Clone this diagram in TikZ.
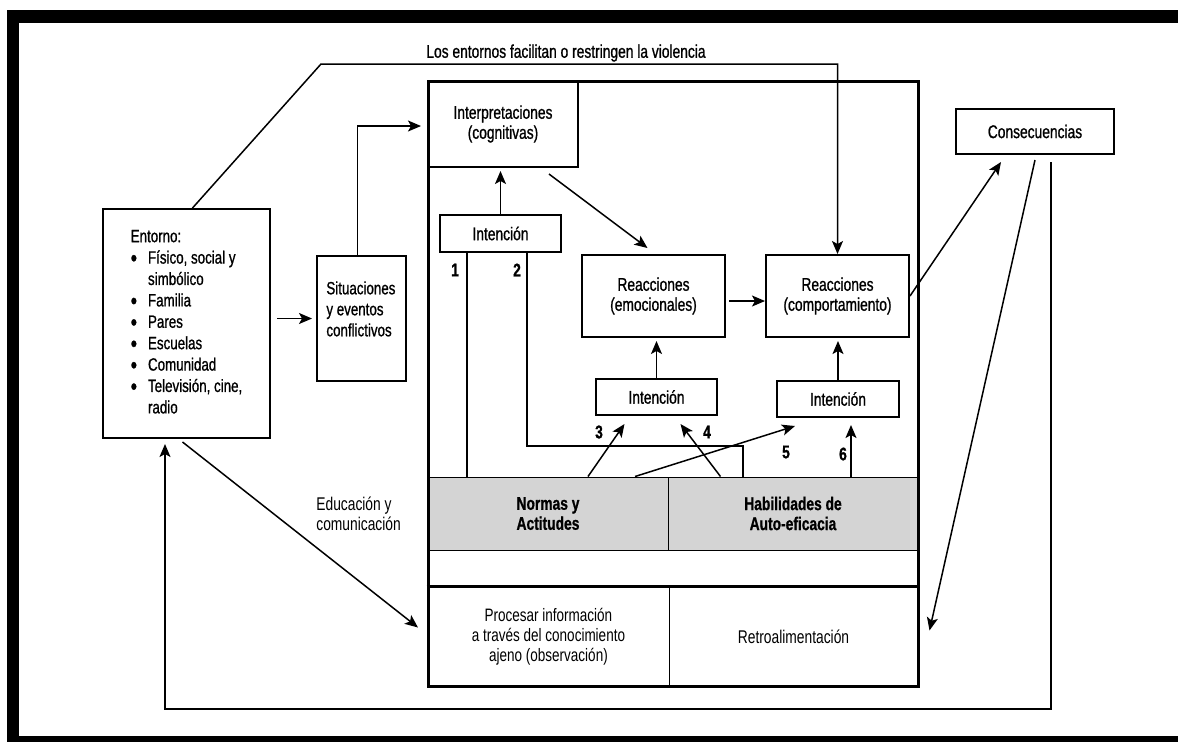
\documentclass[tikz,border=0pt]{standalone}
\usepackage{fontspec}
\setmainfont[FakeStretch=0.75, FakeBold=0.9]{Liberation Sans}
\newfontfamily\ligera[FakeStretch=0.75]{Liberation Sans}
\usetikzlibrary{positioning}
\usetikzlibrary{arrows.meta}
\definecolor{gris}{RGB}{212,212,212}
\newcommand{\vineta}{\smash{\raisebox{-1.3pt}{\fontsize{12}{10}\selectfont\textbullet}}}
\tikzset{every node/.style={font=\fontsize{9.2}{10}\selectfont},
         caja/.style={draw, line width=1pt, align=center, inner sep=0pt},
         texto/.style={inner sep=0pt, align=left},
         numero/.style={inner sep=0pt, font=\fontsize{9.2}{10}\selectfont\bfseries},
         marco/.style={draw, line width=6.25pt},
         linea/.style={line width=0.6pt},
         flecha/.style={-{Stealth[length=6.5pt,width=5.5pt,inset=1.5pt]}, line width=0.75pt},
         every edge/.style={draw, flecha} }

\begin{document}
\begin{tikzpicture}[x=0.5pt, y=-0.5pt]
    \useasboundingbox (0,0) rectangle (1178,741);
    \clip (0,0) rectangle (1178,741);
    \draw[marco] (13,16.5) rectangle (1200,742.25);

    \node (titulo) at (566,53) {Los entornos facilitan o restringen la violencia};
    \node[caja, minimum width=83.5pt, minimum height=114.5pt, font=\fontsize{8.9}{10.7}\selectfont] (ent) at (186.5,323.5)
      {\begin{tabular}{@{}l@{\hspace{5.5pt}}l@{}}
        \multicolumn{2}{@{}l@{}}{Entorno:}\\
        \vineta & Físico, social y\\
                & simbólico\\
        \vineta & Familia\\
        \vineta & Pares\\
        \vineta & Escuelas\\
        \vineta & Comunidad\\
        \vineta & Televisión, cine,\\
                & radio
       \end{tabular}};
    \node[caja, minimum width=44.5pt, minimum height=62.5pt] (sit) at (361.5,318.5) {};
    \node[texto, anchor=north west, font=\fontsize{8.9}{10.5}\selectfont] (sittxt) at (326,281) {Situaciones\\y eventos\\conflictivos};
    \node[caja, minimum width=75pt, minimum height=43pt] (int) at (503,124) {Interpretaciones\\(cognitivas)};
    \node[caja, minimum width=60.5pt, minimum height=18.5pt] (int1) at (500.5,233.5) {Intención};
    \node[caja, minimum width=71.5pt, minimum height=41pt] (emo) at (653.5,296) {Reacciones\\(emocionales)};
    \node[caja, minimum width=71.5pt, minimum height=41pt] (comp) at (837.5,296) {Reacciones\\(comportamiento)};
    \node[caja, minimum width=60.5pt, minimum height=18pt] (int2) at (656.5,397) {Intención};
    \node[caja, minimum width=61pt, minimum height=18pt] (int3) at (838,399) {Intención};
    \node[caja, fill=gris, line width=0.5pt, minimum width=120pt, minimum height=36.5pt,
          font=\fontsize{9.2}{10}\selectfont\bfseries] (nor) at (548,513.5) {Normas y\\Actitudes};
    \node[caja, fill=gris, line width=0.5pt, minimum width=125pt, minimum height=36.5pt,
          font=\fontsize{9.2}{10}\selectfont\bfseries] (hab) at (793,513.5) {Habilidades de\\Auto-eficacia};
    \node[caja, line width=0.5pt, minimum width=120.5pt, minimum height=49.5pt,
          font=\fontsize{9}{10}\selectfont\ligera] (pro) at (548.5,636.5)
      {Procesar información\\a través del conocimiento\\ajeno (observación)};
    \node[caja, line width=0.5pt, minimum width=124.5pt, minimum height=49.5pt,
          font=\fontsize{9.2}{10}\selectfont\ligera] (ret) at (793.5,636.5) {Retroalimentación};
    \node[caja, minimum width=79pt, minimum height=22.5pt] (con) at (1035,131.5) {Consecuencias};
    \node[texto, anchor=west, font=\fontsize{9.2}{10}\selectfont\ligera] (edu) at (316,514) {Educación y\\comunicación};

    \node[numero] (n1) at (455,270) {1};
    \node[numero] (n2) at (517,270) {2};
    \node[numero] (n3) at (599,432) {3};
    \node[numero] (n4) at (707,432) {4};
    \node[numero] (n5) at (786,452) {5};
    \node[numero] (n6) at (843,454) {6};

    % entorno y situaciones
    \coordinate (quiebre) at (321,64);
    \draw[flecha] ([xshift=3pt]ent.north) -- (quiebre) -- (quiebre -| comp.north) -- (comp.north);
    \draw (ent.east |- sit.west) edge[shorten <=3pt, shorten >=2pt] (sit.west);
    \draw[flecha] ([xshift=-2pt]sit.north) |- ([xshift=-3pt,yshift=-1pt]int.west);

    % recuadro central
    \draw (int1.north) edge[shorten >=1.5pt] (int1.north |- int.south);
    \draw ([xshift=-15pt,yshift=-3pt]int.south east) edge ([xshift=-3pt,yshift=3pt]emo.north);
    \draw ([xshift=1.5pt,yshift=-2.5pt]emo.east) edge ([yshift=-2.5pt]comp.west);
    \draw (int2.north) edge[shorten >=1.5pt] (int2.north |- emo.south);
    \draw (int3.north) edge[shorten >=1.5pt] (int3.north |- comp.south);
    \draw[linea] ([xshift=14pt]int1.south west) -- ([xshift=14pt]int1.south west |- nor.north);
    \coordinate (codo) at (743,446);
    \draw[linea] ([xshift=44pt]int1.south west) |- (codo) -- (codo |- nor.north);
    \draw ([xshift=20pt]nor.north) edge ([xshift=-16pt,yshift=-4pt]int2.south);
    \draw ([xshift=26pt]nor.north east) edge ([xshift=12pt,yshift=-4pt]int2.south);
    \draw ([xshift=43.5pt]nor.north) edge ([xshift=9.5pt,yshift=-4pt]int3.south west);
    \draw ([xshift=29pt]hab.north) edge ([xshift=29pt,yshift=-3.5pt]hab.north |- int3.south);

    % consecuencias y retroalimentacion
    \draw (comp.east) edge ([xshift=23pt,yshift=-3.5pt]con.south west);
    \draw ([yshift=-2.5pt]con.south) edge ([xshift=5.5pt,yshift=3pt]ret.east);
    \coordinate (pie) at (165,709);
    \draw[flecha] ([xshift=8pt,yshift=-3.5pt]con.south) |- (pie) -- ([xshift=-10.75pt,yshift=-2.5pt]ent.south);
    \draw ([xshift=-2pt,yshift=-1.5pt]ent.south) edge ([xshift=-4.75pt,yshift=4.5pt]pro.west);

    \node[draw, line width=1.5pt, inner sep=0pt, minimum width=245pt, minimum height=302.5pt] (marcoint) at (673,383.5) {};
    \draw[line width=1.5pt] (marcoint.west |- pro.north) -- (marcoint.east |- pro.north);
\end{tikzpicture}
\end{document}
